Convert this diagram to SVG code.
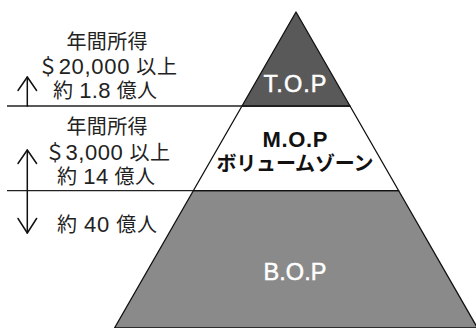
<svg xmlns="http://www.w3.org/2000/svg" width="476" height="328" viewBox="0 0 476 328">
<style>
.tier{stroke:#111;stroke-width:1.3;stroke-linejoin:round}
.lbl{font-family:"Liberation Sans","Noto Sans CJK JP",sans-serif;font-size:20px;fill:#222;text-anchor:middle}
.n{font-size:22px}
.wt{font-family:"Liberation Sans","Noto Sans CJK JP",sans-serif;font-size:23.5px;fill:#fff;stroke:#fff;stroke-width:0.5;text-anchor:middle}
.bt{font-family:"Liberation Sans","Noto Sans CJK JP",sans-serif;font-weight:bold;fill:#111;text-anchor:middle}
.ln{stroke:#222;stroke-width:1.3;fill:none}
.ar{stroke:#111;stroke-width:1.5;fill:none;stroke-linecap:round;stroke-linejoin:round}
</style>
<rect width="476" height="328" fill="#fff"/>
<g id="bop">
<polygon class="tier" points="193.3,190.7 398.7,190.7 477.5,328 114.5,328" fill="#8a8a8a"/>
<text class="wt" x="295" y="280" textLength="63">B.O.P</text>
</g>
<g id="mop">
<polygon class="tier" points="242,106 350,106 398.7,190.7 193.3,190.7" fill="#fff"/>
<text class="bt" x="295" y="147" font-size="22" textLength="65">M.O.P</text>
<text class="bt" x="295" y="170.5" font-size="20" textLength="157">ボリュームゾーン</text>
</g>
<g id="top">
<polygon class="tier" points="296,12 350,106 242,106" fill="#595959"/>
<text class="wt" x="295" y="92" textLength="63">T.O.P</text>
</g>
<g id="connectors">
<line class="ln" x1="7" y1="106" x2="242" y2="106"/>
<line class="ln" x1="7" y1="190.7" x2="193.3" y2="190.7"/>
<line class="ar" x1="27.3" y1="106" x2="27.3" y2="77"/>
<polyline class="ar" points="18,90.5 27.3,77 36.6,90.5"/>
<line class="ar" x1="27.3" y1="150" x2="27.3" y2="233"/>
<polyline class="ar" points="18,163.5 27.3,150 36.6,163.5"/>
<polyline class="ar" points="18,218.5 27.3,233 36.6,218.5"/>
</g>
<g id="top-info">
<text class="lbl" x="107" y="48.5" textLength="81">年間所得</text>
<text class="lbl" x="107.5" y="73.5" textLength="139">＄<tspan class="n">20,000</tspan> 以上</text>
<text class="lbl" x="105" y="97.5" textLength="104">約 <tspan class="n">1.8</tspan> 億人</text>
</g>
<g id="mid-info">
<text class="lbl" x="107" y="133.5" textLength="81">年間所得</text>
<text class="lbl" x="107.5" y="159.5" textLength="125">＄<tspan class="n">3,000</tspan> 以上</text>
<text class="lbl" x="106" y="183.5" textLength="98">約 <tspan class="n">14</tspan> 億人</text>
</g>
<g id="bot-info">
<text class="lbl" x="107" y="231.5" textLength="100">約 <tspan class="n">40</tspan> 億人</text>
</g>
</svg>
